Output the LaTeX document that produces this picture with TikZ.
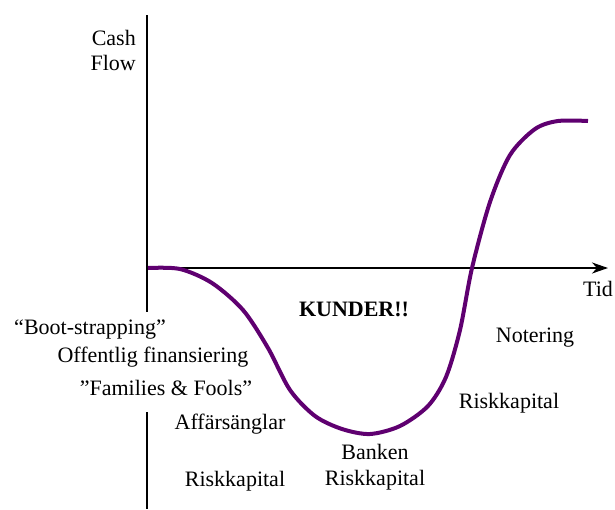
\documentclass[tikz,border=0pt]{standalone}
\usepackage{fontspec}
\setmainfont{Liberation Serif}
\usetikzlibrary{arrows.meta}

\begin{document}
\begin{tikzpicture}[x=1pt,y=-1pt]
	 \tikzstyle{lbl}=[font=\fontsize{22}{26}\selectfont,inner sep=1pt]
	 \tikzstyle{axis}=[draw,line width=2pt,black]
	 \tikzstyle{flow}=[draw,line width=4pt,color={rgb,255:red,95;green,0;blue,112},line join=round]
	 \useasboundingbox (0,0) rectangle (615,509);

	 % axes (the y axis is broken where the labels stand)
	 \coordinate (o) at (147,268);
	 \coordinate (top) at (147,15);
	 \coordinate (gap1) at (147,312);
	 \coordinate (gap2) at (147,412);
	 \coordinate (bot) at (147,509);
	 \coordinate (tend) at (608,268);
	 \draw[axis] (top) -- (gap1);
	 \draw[axis] (gap2) -- (bot);
	 \draw[axis,-{Stealth[length=16pt,width=11pt,inset=5pt]}] (o) -- (tend);

	 % the cash flow curve
	 \draw[flow] plot[smooth,tension=0.5] coordinates {(148,268) (180,269) (212,283) (243,310) (268,348) (290,390) (315,416) (342,429) (370,434) (400,426) (428,406) (446,377) (460,330) (472,268) (490,202) (510,155) (535,129) (558,121) (588,121)};

	 \node[lbl,anchor=east] (cash) at (137,38) {Cash};
	 \node[lbl,anchor=east] (flow) at (137,63) {Flow};
	 \node[lbl] (tid) at (598,289) {Tid};
	 \node[lbl,font=\fontsize{22}{26}\selectfont\bfseries] (kunder) at (354,309) {KUNDER!!};

	 \node[lbl,fill=white] (boot) at (90,330) {``Boot-strapping''};
	 \node[lbl,fill=white] (off) at (153,357) {Offentlig finansiering};
	 \node[lbl,fill=white] (fam) at (166,388) {''Families \& Fools''};
	 \node[lbl] (ang) at (230,424) {Affärsänglar};
	 \node[lbl] (risk1) at (235,481) {Riskkapital};
	 \node[lbl,align=center] (bank) at (375,467) {Banken\\Riskkapital};
	 \node[lbl] (risk2) at (509,403) {Riskkapital};
	 \node[lbl] (note) at (535,338) {Notering};
\end{tikzpicture}
\end{document}
